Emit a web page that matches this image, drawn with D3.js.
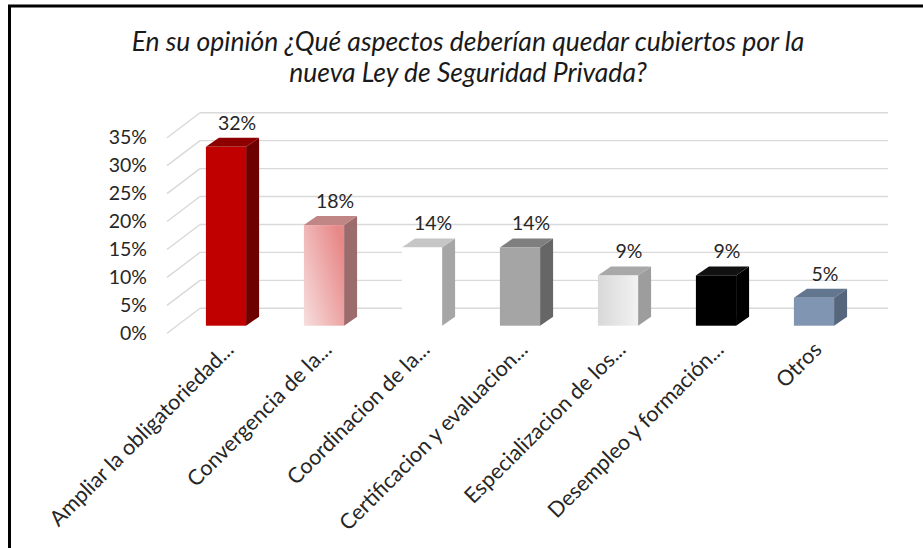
<!DOCTYPE html>
<html>
<head>
<meta charset="utf-8">
<script src="https://cdn.jsdelivr.net/npm/d3@7"></script>
<style>
  html, body { margin: 0; padding: 0; background: #fff; }
  svg { display: block; }
  text { font-family: Lato, "Open Sans", sans-serif; }
</style>
</head>
<body>
<svg id="chart" width="923" height="548"></svg>
<script>
// Survey answers and their shares (percent)
const categories = [
  "Ampliar la obligatoriedad...",
  "Convergencia de la...",
  "Coordinacion de la...",
  "Certificacion y evaluacion...",
  "Especializacion de los...",
  "Desempleo y formación...",
  "Otros"
];
const values = [32, 18, 14, 14, 9, 9, 5];
const tickValues = [0, 5, 10, 15, 20, 25, 30, 35];
const titleLines = [
  "En su opinión ¿Qué aspectos deberían quedar cubiertos por la",
  "nueva Ley de Seguridad Privada?"
];

// Face colours for each column: [front, side, top]
const faceColors = [
  ["#c00000", "#6f0000", "#8e0000"],
  ["url(#gradPink)", "#9c6b6b", "#c08585"],
  ["#ffffff", "#a6a6a6", "#c6c6c6"],
  ["#a5a5a5", "#666666", "#7f7f7f"],
  ["url(#gradGrey)", "#9d9d9d", "#a8a8a8"],
  ["#000000", "#000000", "#111111"],
  ["#7f95b1", "#56667c", "#62768f"]
];

const svg = d3.select("#chart");

const defs = svg.append("defs");
const pink = defs.append("linearGradient").attr("id", "gradPink")
  .attr("x1", "0").attr("y1", "1").attr("x2", "1").attr("y2", "0.3");
pink.append("stop").attr("offset", "0").attr("stop-color", "#f7dede");
pink.append("stop").attr("offset", "1").attr("stop-color", "#e88989");
const grey = defs.append("linearGradient").attr("id", "gradGrey")
  .attr("x1", "0").attr("y1", "0").attr("x2", "1").attr("y2", "0");
grey.append("stop").attr("offset", "0").attr("stop-color", "#d8d8d8");
grey.append("stop").attr("offset", "1").attr("stop-color", "#f2f2f2");

// Frame lines (top and left edge)
svg.append("line").attr("x1", 8).attr("y1", 6).attr("x2", 923).attr("y2", 6)
  .attr("stroke", "#000").attr("stroke-width", 3);
svg.append("line").attr("x1", 9.5).attr("y1", 5).attr("x2", 9.5).attr("y2", 548)
  .attr("stroke", "#000").attr("stroke-width", 3);

// Title
svg.append("g").selectAll("text").data(titleLines).join("text")
  .attr("x", 468)
  .attr("y", (d, i) => 51 + i * 31)
  .attr("text-anchor", "middle")
  .attr("font-size", 26.5)
  .attr("font-style", "italic")
  .attr("fill", "#1a1a1a")
  .text(d => d);

// 3D geometry: back wall, front edge of the side wall, bar plane
const depth = { dx: -33, dy: 25 };       // back wall -> front edge
const barDepth = { dx: 13, dy: -9 };     // bar front -> bar back
const backLeft = 200, backRight = 888;

const yBack = d3.scaleLinear().domain([0, 35]).range([308.3, 112.7]);
const yFront = d3.scaleLinear().domain([0, 35]).range([308.3 + depth.dy, 112.7 + depth.dy]);
const yBar = d3.scaleLinear().domain([0, 35]).range([325.7, 325.7 - (308.3 - 112.7)]);

const x = d3.scaleBand().domain(categories).range([177, 863])
  .paddingInner(0.59).paddingOuter(0.295);

// Gridlines: back wall horizontals + side wall diagonals
const grid = svg.append("g").attr("stroke", "#d9d9d9").attr("stroke-width", 1.4).attr("fill", "none");
grid.selectAll("line.back").data(tickValues).join("line")
  .attr("x1", backLeft).attr("x2", backRight)
  .attr("y1", d => yBack(d)).attr("y2", d => yBack(d));
grid.selectAll("line.side").data(tickValues).join("line")
  .attr("x1", backLeft + depth.dx).attr("y1", d => yFront(d))
  .attr("x2", backLeft).attr("y2", d => yBack(d));

// Value axis labels
const axis = d3.axisLeft(yFront).tickValues(tickValues).tickFormat(d => d + "%").tickSize(0).tickPadding(0);
const axisG = svg.append("g").attr("transform", `translate(${backLeft + depth.dx - 20},0)`).call(axis);
axisG.select(".domain").remove();
axisG.selectAll("text").attr("font-size", 19.5).attr("fill", "#262626")
  .attr("font-family", "Lato, 'Open Sans', sans-serif");

// Columns
const bars = svg.append("g").selectAll("g").data(values).join("g");
bars.each(function (v, i) {
  const g = d3.select(this);
  const x0 = x(categories[i]), w = x.bandwidth();
  const y0 = yBar(0), y1 = yBar(v);
  const [cf, cs, ct] = faceColors[i];
  // side face
  g.append("path").attr("fill", cs)
    .attr("d", `M${x0 + w},${y1}L${x0 + w + barDepth.dx},${y1 + barDepth.dy}L${x0 + w + barDepth.dx},${y0 + barDepth.dy}L${x0 + w},${y0}Z`);
  // top face
  g.append("path").attr("fill", ct)
    .attr("d", `M${x0},${y1}L${x0 + barDepth.dx},${y1 + barDepth.dy}L${x0 + w + barDepth.dx},${y1 + barDepth.dy}L${x0 + w},${y1}Z`);
  // front face
  g.append("rect").attr("fill", cf)
    .attr("x", x0).attr("y", y1).attr("width", w).attr("height", y0 - y1);
  // value label
  g.append("text")
    .attr("x", x0 + w / 2 + 11)
    .attr("y", y1 - 17)
    .attr("text-anchor", "middle")
    .attr("font-size", 19.5)
    .attr("fill", "#262626")
    .text(v + "%");
});

// Category labels, rotated
svg.append("g").selectAll("text").data(categories).join("text")
  .attr("transform", d => `translate(${x(d) + x.bandwidth() / 2 + 9},351) rotate(-45)`)
  .attr("text-anchor", "end")
  .attr("font-size", 21.5)
  .attr("fill", "#262626")
  .text(d => d);
</script>
</body>
</html>
